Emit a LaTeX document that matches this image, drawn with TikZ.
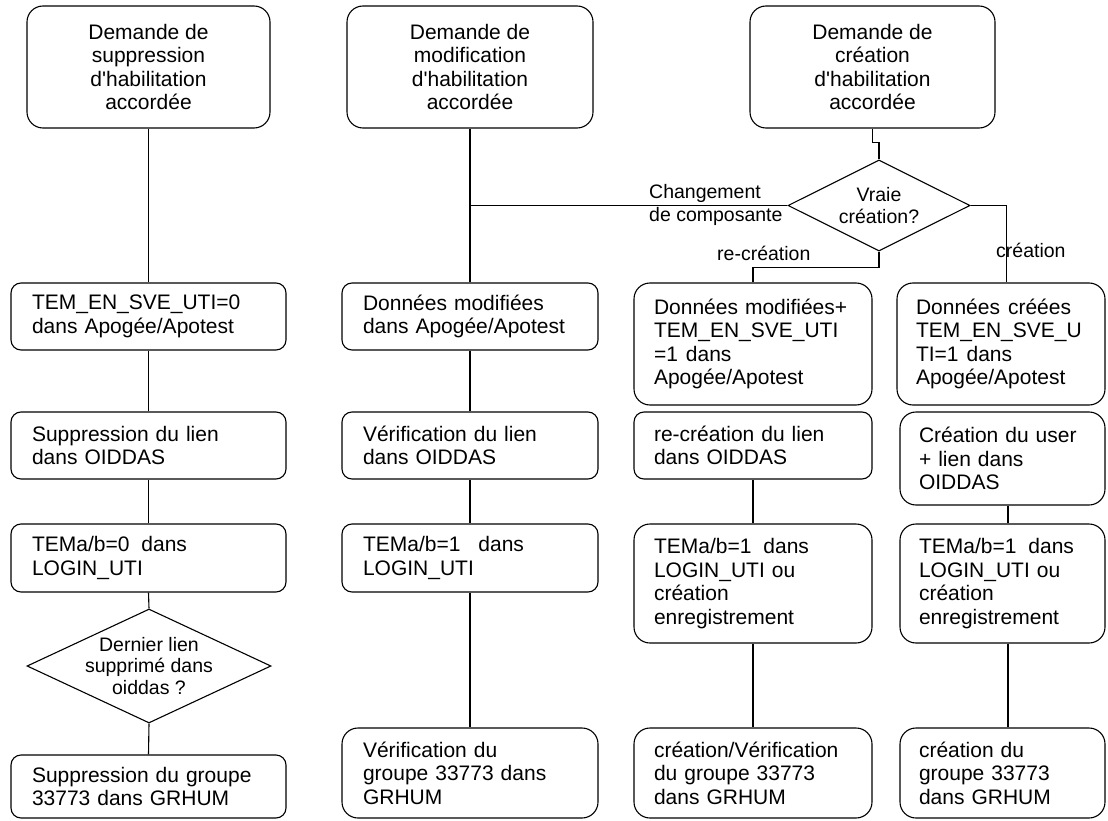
\documentclass[tikz,border=0pt]{standalone}
\usepackage{fontspec}
\setmainfont{Liberation Sans}
\usetikzlibrary{shapes.geometric,calc}
\begin{document}
\begin{tikzpicture}[x=1pt,y=-1pt,
  box/.style={draw, line width=1.1pt, rounded corners=10pt, inner sep=0pt, align=left, font=\fontsize{21}{23.4}\selectfont},
  tallbox/.style={box, rounded corners=16pt},
  topbox/.style={box, rounded corners=16pt, align=center},
  dec/.style={draw, diamond, line width=1.1pt, inner sep=0pt},
  dtxt/.style={inner sep=0pt, align=center, font=\fontsize{19.5}{21.5}\selectfont},
  lbl/.style={inner sep=0pt, align=left, font=\fontsize{19.5}{23}\selectfont},
  conn/.style={line width=1.1pt}]
\fill[white] (0,0) rectangle (1108,821);
\useasboundingbox (0,0) rectangle (1108,821);

% top boxes
\node[topbox, minimum width=243, minimum height=122] (A0) at (148.5,67) {Demande de\\suppression\\d\textquotesingle habilitation\\accordée};
\node[topbox, minimum width=246, minimum height=122] (B0) at (470,67) {Demande de\\modification\\d\textquotesingle habilitation\\accordée};
\node[topbox, minimum width=245, minimum height=122] (C0) at (872.5,67) {Demande de\\création\\d\textquotesingle habilitation\\accordée};

% decision
\node[dec, minimum width=182, minimum height=91] (d1) at (879,205.5) {};
\node[dtxt] (d1t) at (d1.center) {Vraie\\création?};

% row 2
\node[box, minimum width=275, minimum height=67, text width=233] (A1) at (148.5,316.5) {TEM\_EN\_SVE\_UTI=0\\dans Apogée/Apotest};
\node[box, minimum width=256, minimum height=67, text width=214] (B1) at (470,316.5) {Données modifiées\\dans Apogée/Apotest};
\node[tallbox, minimum width=238, minimum height=122, text width=198] (C1) at (753,344) {Données\hspace{7pt}modifiées+\\TEM\_EN\_SVE\_UTI\\=1\hspace{8pt}dans\\Apogée/Apotest};
\node[tallbox, minimum width=208, minimum height=122, text width=170] (D1) at (1001,344) {Données\hspace{8pt}créées\\TEM\_EN\_SVE\_U\\TI=1\hspace{8pt}dans\\Apogée/Apotest};

% row 3
\node[box, minimum width=275, minimum height=67, text width=233] (A2) at (148.5,445.5) {Suppression du lien\\dans OIDDAS};
\node[box, minimum width=256, minimum height=67, text width=214] (B2) at (470,445.5) {Vérification du lien\\dans OIDDAS};
\node[box, minimum width=238, minimum height=67, text width=198] (C2) at (753,445.5) {re-création du lien\\dans OIDDAS};
\node[tallbox, minimum width=205, minimum height=93, text width=167] (D2) at (1002.5,458.5) {Création du user\\+ lien dans\\OIDDAS};

% row 4
\node[box, minimum width=275, minimum height=68, text width=233] (A3) at (148.5,558) {TEMa/b=0\hspace{12pt}dans\\LOGIN\_UTI};
\node[box, minimum width=256, minimum height=68, text width=214] (B3) at (470,558) {TEMa/b=1\hspace{18pt}dans\\LOGIN\_UTI};
\node[tallbox, minimum width=238, minimum height=119, text width=198] (C3) at (753,583.5) {TEMa/b=1\hspace{12pt}dans\\LOGIN\_UTI ou\\création\\enregistrement};
\node[tallbox, minimum width=205, minimum height=119, text width=167] (D3) at (1002.5,583.5) {TEMa/b=1\hspace{12pt}dans\\LOGIN\_UTI ou\\création\\enregistrement};

% decision 2
\node[dec, minimum width=244, minimum height=114] (A4) at (149,666) {};
\node[dtxt] (A4t) at (A4.center) {Dernier lien\\supprimé dans\\oiddas ?};

% row 5
\node[box, minimum width=275, minimum height=63, text width=233] (A5) at (148.5,786.5) {Suppression du groupe\\33773 dans GRHUM};
\node[tallbox, minimum width=256, minimum height=90, text width=214] (B5) at (470,773) {Vérification du\\groupe 33773 dans\\GRHUM};
\node[tallbox, minimum width=238, minimum height=90, text width=198] (C5) at (753,773) {création/Vérification\\du groupe 33773\\dans GRHUM};
\node[tallbox, minimum width=205, minimum height=90, text width=167] (D5) at (1002.5,773) {création du\\groupe 33773\\dans GRHUM};

% labels
\node[lbl, anchor=west] (lchg) at (649,205) {Changement\\de composante};
\node[lbl, anchor=west] (lrec) at (717,253) {re-création};
\node[lbl, anchor=west] (lcre) at (996,250) {création};

% connectors column 1
\draw[conn] (A0.south) -- (A1.north);
\draw[conn] (A1.south) -- (A2.north);
\draw[conn] (A2.south) -- (A3.north);
\draw[conn] (A3.south) -- (A4.north);
\draw[conn] (A4.south) -- (A5.north);
% column 2
\draw[conn] (B0.south) -- (B1.north);
\draw[conn] (B1.south) -- (B2.north);
\draw[conn] (B2.south) -- (B3.north);
\draw[conn] (B3.south) -- (B5.north);
\draw[conn] (d1.west) -- (d1.west -| B0.south);
% creation branch
\draw[conn] (C0.south) -- ++(0,14) -| (d1.north);
\draw[conn] (d1.south) -- ++(0,16) -| (C1.north);
\draw[conn] (d1.east) -| ([xshift=5.5pt]D1.north);
\draw[conn] (C2.south) -- (C3.north);
\draw[conn] (C3.south) -- (C5.north);
\draw[conn] ([xshift=5.5pt]D2.south) -- ([xshift=5.5pt]D3.north);
\draw[conn] ([xshift=5.5pt]D3.south) -- ([xshift=5.5pt]D5.north);
\end{tikzpicture}
\end{document}
